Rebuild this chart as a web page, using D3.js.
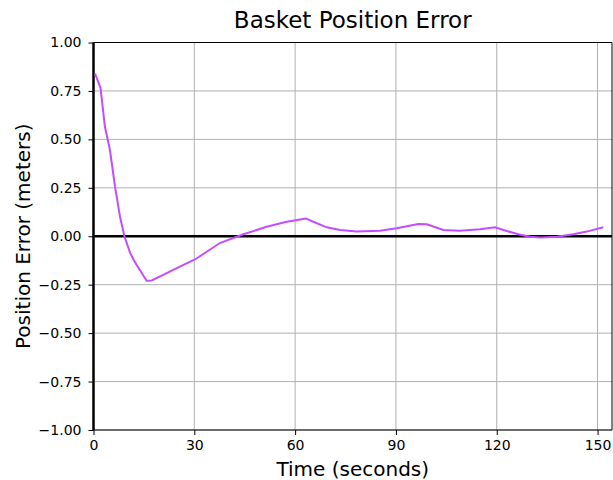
<!DOCTYPE html>
<html>
<head>
<meta charset="utf-8">
<script src="https://cdn.jsdelivr.net/npm/d3@7"></script>
<style>
  body { margin: 0; background: #fff; }
  svg { font-family: "DejaVu Sans", sans-serif; }
</style>
</head>
<body>
<svg id="chart" width="613" height="480"></svg>
<script>
// Basket position error over time
const timeSec = [0.45, 2.1, 3.4, 4.9, 6.4, 7.9, 9.2, 10.9, 12.4, 13.8, 15.8, 17.3, 21.8, 25.7, 30.2, 33.7, 37.6, 44.6, 51.5, 57.5, 63.2, 65.4, 69.4, 73.4, 78.3, 85.3, 90.2, 96.7, 99.2, 104.1, 109, 115, 119.5, 122, 126.4, 129.9, 132.9, 137.9, 142.8, 146.8, 151.7];
const errorM = [0.84, 0.765, 0.565, 0.445, 0.256, 0.10, 0.0, -0.086, -0.135, -0.174, -0.23, -0.228, -0.19, -0.157, -0.12, -0.08, -0.035, 0.01, 0.049, 0.075, 0.092, 0.075, 0.046, 0.032, 0.024, 0.029, 0.041, 0.063, 0.062, 0.032, 0.029, 0.036, 0.046, 0.032, 0.01, -0.002, -0.006, -0.002, 0.01, 0.024, 0.046];
const xTicks = [0, 30, 60, 90, 120, 150];
const yTicks = [-1.0, -0.75, -0.5, -0.25, 0.0, 0.25, 0.5, 0.75, 1.0];

const svg = d3.select("#chart");
const PLOT_LEFT = 93.5, PLOT_RIGHT = 612, PLOT_TOP = 42.5, PLOT_BOTTOM = 430;

const x = d3.scaleLinear().domain([0, 154.3]).range([PLOT_LEFT, PLOT_RIGHT]);
const y = d3.scaleLinear().domain([-1, 1]).range([PLOT_BOTTOM, PLOT_TOP]);

// grid lines
svg.append("g").selectAll("line").data(xTicks).join("line")
  .attr("x1", d => x(d)).attr("x2", d => x(d))
  .attr("y1", PLOT_TOP).attr("y2", PLOT_BOTTOM)
  .attr("stroke", "#b0b0b0").attr("stroke-width", 1);
svg.append("g").selectAll("line").data(yTicks).join("line")
  .attr("x1", PLOT_LEFT).attr("x2", PLOT_RIGHT)
  .attr("y1", d => y(d)).attr("y2", d => y(d))
  .attr("stroke", "#b0b0b0").attr("stroke-width", 1);

// axes
const xAxis = svg.append("g")
  .attr("transform", `translate(0,${PLOT_BOTTOM})`)
  .call(d3.axisBottom(x).tickValues(xTicks).tickSize(5).tickPadding(5).tickFormat(d3.format("d")));
const yAxis = svg.append("g")
  .attr("transform", `translate(${PLOT_LEFT},0)`)
  .call(d3.axisLeft(y).tickValues(yTicks).tickSize(5).tickPadding(7).tickFormat(d => d3.format(".2f")(d).replace("-", "\u2212")));
[xAxis, yAxis].forEach(a => {
  a.select(".domain").remove();
  a.selectAll("text").attr("font-size", 14).attr("fill", "#000").attr("font-family", "DejaVu Sans");
  a.selectAll("line").attr("stroke", "#000");
});

// spines
svg.append("line").attr("x1", PLOT_LEFT).attr("x2", PLOT_RIGHT).attr("y1", PLOT_TOP).attr("y2", PLOT_TOP)
  .attr("stroke", "#000").attr("stroke-width", 1);
svg.append("line").attr("x1", PLOT_LEFT).attr("x2", PLOT_RIGHT).attr("y1", PLOT_BOTTOM).attr("y2", PLOT_BOTTOM)
  .attr("stroke", "#000").attr("stroke-width", 1);
svg.append("line").attr("x1", PLOT_RIGHT).attr("x2", PLOT_RIGHT).attr("y1", PLOT_TOP).attr("y2", PLOT_BOTTOM)
  .attr("stroke", "#000").attr("stroke-width", 1);

// reference lines at zero
svg.append("line").attr("x1", PLOT_LEFT).attr("x2", PLOT_RIGHT).attr("y1", y(0)).attr("y2", y(0))
  .attr("stroke", "#000").attr("stroke-width", 2.5);
svg.append("line").attr("x1", x(0)).attr("x2", x(0)).attr("y1", PLOT_TOP).attr("y2", PLOT_BOTTOM)
  .attr("stroke", "#000").attr("stroke-width", 2.5);

// the error curve
const line = d3.line().x((d, i) => x(timeSec[i])).y(d => y(d));
svg.append("path").datum(errorM)
  .attr("d", line)
  .attr("fill", "none")
  .attr("stroke", "#c44dff")
  .attr("stroke-width", 2);

// labels
svg.append("text").attr("x", (PLOT_LEFT + PLOT_RIGHT) / 2).attr("y", 28)
  .attr("text-anchor", "middle").attr("font-size", 23).text("Basket Position Error");
svg.append("text").attr("x", (PLOT_LEFT + PLOT_RIGHT) / 2).attr("y", 476)
  .attr("text-anchor", "middle").attr("font-size", 20).text("Time (seconds)");
svg.append("text").attr("transform", `translate(30,${(PLOT_TOP + PLOT_BOTTOM) / 2}) rotate(-90)`)
  .attr("text-anchor", "middle").attr("font-size", 20).text("Position Error (meters)");
</script>
</body>
</html>
